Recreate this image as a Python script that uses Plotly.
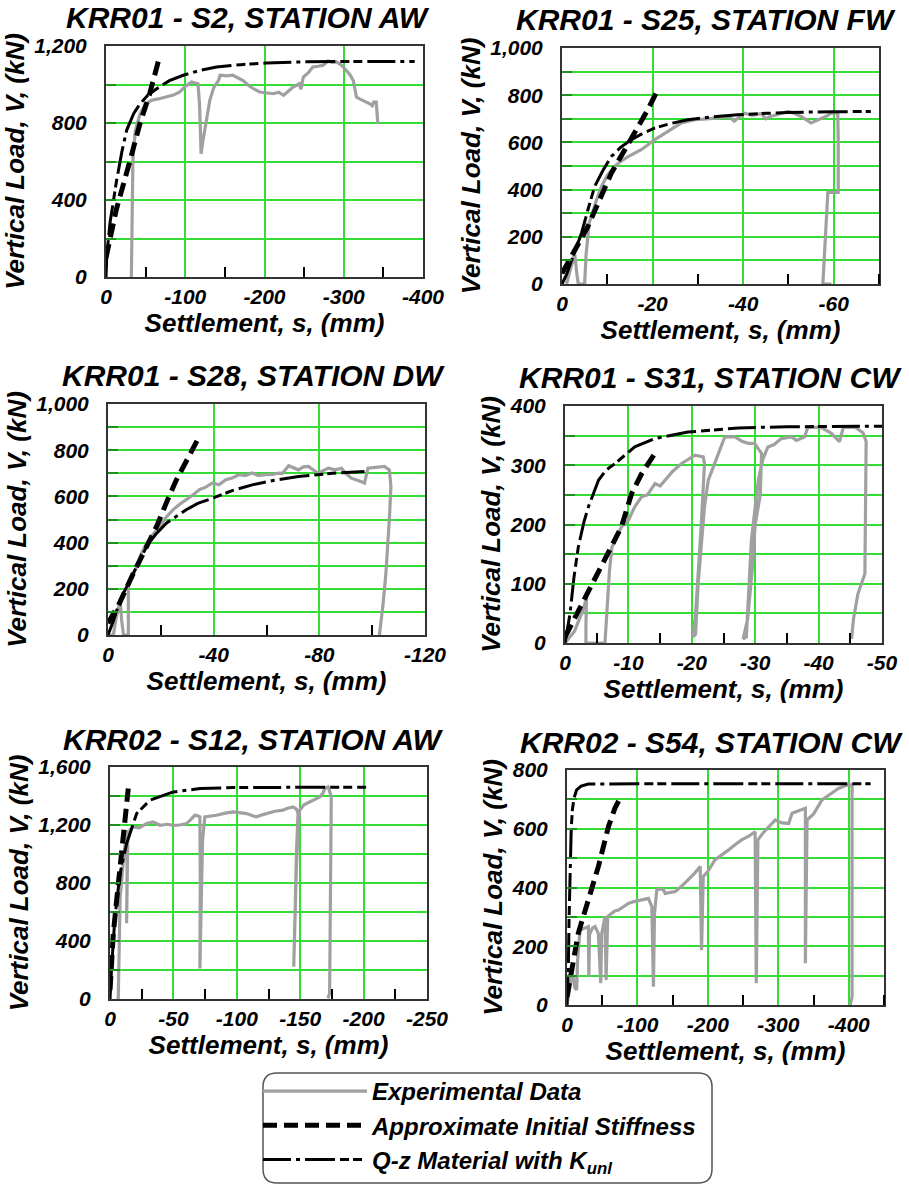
import plotly.graph_objects as go

# ---------------- DATA (settlement s in mm, load V in kN) ----------------
titles = ["KRR01 - S2, STATION AW", "KRR01 - S25, STATION FW", "KRR01 - S28, STATION DW",
          "KRR01 - S31, STATION CW", "KRR02 - S12, STATION AW", "KRR02 - S54, STATION CW"]

# Panel 1: KRR01 - S2, Station AW
p1_exp_s = [-32, -33, -34, -37, -43, -50, -57.5, -66, -76, -85, -93, -100, -108, -113, -116, -118, -120, -122,
            -125, -131, -136, -142, -144, -152, -160, -166, -173, -180, -186, -194, -203, -211, -218, -224, -230,
            -236, -240, -244, -246, -249, -255, -261, -268, -274, -280, -286, -291, -297, -303, -308, -312, -314,
            -316, -320, -324, -333, -336, -338, -341, -342, -343]
p1_exp_v = [0, 300, 620, 760, 848, 900, 918, 925, 935, 945, 961, 990, 1013, 1005, 1004, 900, 640, 700,
            779, 918, 985, 1021, 1048, 1045, 1048, 1035, 1021, 995, 978, 961, 958, 952, 960, 944, 965,
            987, 995, 1004, 975, 1039, 1060, 1091, 1095, 1100, 1122, 1115, 1117, 1100, 1074, 1050, 1021, 980,
            935, 925, 918, 900, 890, 910, 909, 850, 797]
p1_k0_s = [0, -13, -30, -43, -55, -67]
p1_k0_v = [100, 350, 600, 800, 950, 1135]
p1_qz_s = [0, -1, -5, -13.4, -20, -26, -35, -43, -53, -64, -80, -97.5, -120, -139.5, -170, -202.5, -250, -286.6,
           -340, -389.5]
p1_qz_v = [0, 110, 280, 502, 650, 762, 850, 900, 945, 978, 1020, 1048, 1075, 1091, 1103, 1112, 1118, 1120,
           1120, 1120]

# Panel 2: KRR01 - S25, Station FW
p2_exp_s = [-1, -2.2, -2.8, -3.3, -3.6, -5, -5.3, -5.7, -6, -6.5, -7.5, -8.7, -10, -11.6, -13, -14.6, -16, -17.5,
            -19, -20.4, -22, -23.4, -25, -26.3, -28, -29.3, -32, -35, -37, -38, -40.3, -42, -44, -45, -46, -48,
            -49.9, -51, -52.8, -55, -56, -57.2, -58.5, -59.4, -60.9, -61, -61, -58.7, -58.2, -57.6, -59.5]
p2_exp_v = [0, 80, 130, 40, 0, 0, 120, 200, 260, 286, 350, 413, 460, 498, 520, 540, 555, 569,
            590, 611, 630, 646, 665, 682, 690, 696, 700, 703, 708, 690, 724, 715, 722, 700, 710, 720,
            731, 725, 710, 682, 690, 703, 712, 724, 724, 600, 388, 388, 200, 0, 0]
p2_k0_s = [0, -5.7, -10.9, -16, -19, -20.8]
p2_k0_v = [45, 243, 470, 639, 740, 810]
p2_qz_s = [0, -1, -2.5, -4.3, -5.8, -7.2, -9, -10.9, -13, -15.3, -18, -20.4, -24, -27.8, -33, -38.8, -45, -49.9,
           -60, -68.2]
p2_qz_v = [0, 40, 120, 215, 320, 413, 480, 540, 580, 611, 640, 660, 680, 696, 708, 717, 723, 727, 730, 731]

# Panel 3: KRR01 - S28, Station DW
p3_exp_s = [0, -2, -3.2, -4.6, -5.2, -5.9, -7.7, -7.7, -9, -10.9, -12.5, -14.6, -17, -19.6, -22, -24.6, -27,
            -29.6, -32, -34.6, -37, -39.6, -42, -44.6, -47, -49.6, -52, -54.6, -57, -59.6, -62, -64.6, -66,
            -68.4, -70, -72.1, -74, -75.9, -78, -79.6, -82, -83.4, -86, -88.4, -90, -92.1, -95, -97.1, -98.4,
            -101, -104.6, -106.5, -107.1, -106.5, -105.2, -104, -102.75]
p3_exp_v = [0, 0, 80, 152, 60, 0, 0, 210, 250, 296, 350, 397, 435, 470, 510, 542, 565,
            585, 605, 629, 640, 658, 650, 672, 680, 694, 690, 701, 690, 694, 695, 701, 700,
            733, 725, 715, 728, 730, 712, 701, 715, 722, 715, 722, 700, 679, 668, 658, 722,
            725, 730, 715, 643, 500, 267, 120, 0]
p3_k0_s = [0, -4, -9.6, -14, -18.4, -22, -25.9, -30, -34.25]
p3_k0_v = [51, 130, 267, 370, 470, 570, 672, 760, 853]
p3_qz_s = [0, -2, -4.6, -9.6, -14.6, -18, -22.1, -29.6, -34, -39.6, -47, -54.6, -63, -72.1, -85, -97.1]
p3_qz_v = [0, 60, 152, 267, 383, 435, 484, 542, 570, 592, 625, 650, 670, 686, 700, 708]

# Panel 4: KRR01 - S31, Station CW
p4_exp_s = [0, -1.5, -3, -3.4, -3.3, -3.3, -6.3, -6.6, -7, -7.4, -7.8, -8.9, -10, -11, -12.1, -13, -14.2, -15,
            -16.3, -17, -18.4, -19.5, -20.5, -21.8, -22, -21.5, -21, -20.6, -20.2, -20.6, -21, -21.5, -22, -22.6,
            -23.5, -24.2, -25.2, -26.8, -28, -28.9, -29.9, -31, -30.8, -30, -29.5, -28.8, -28.1, -28.6, -29.4,
            -30, -30.5, -31.2, -32, -33, -34.1, -35.7, -36.5, -37.8, -38.3, -40.4, -42, -43.3, -43.9, -45.8, -47,
            -47.5, -47.4, -47.3, -46.2, -45.5, -45.2]
p4_exp_v = [0, 20, 60, 78, 30, 0, 0, 60, 120, 162, 170, 196, 207, 230, 247, 250, 269, 265,
            281, 290, 303, 310, 317, 314, 303, 200, 120, 50, 10, 15, 100, 173, 230, 275,
            300, 320, 348, 348, 340, 337, 337, 320, 250, 200, 120, 40, 7, 10, 173,
            230, 275, 310, 331, 335, 345, 348, 342, 348, 364, 364, 354, 340, 364, 364, 355,
            340, 250, 117, 83, 40, 7]
p4_k0_s = [0, -3.2, -6.3, -8.9, -10.5, -12.1, -14]
p4_k0_v = [10, 78, 145, 196, 252, 286, 317]
p4_qz_s = [0, -0.8, -1.4, -2.1, -3, -3.7, -5.3, -6.5, -7.9, -11, -14.2, -19.4, -27.3, -35, -50]
p4_qz_v = [0, 50, 110, 162, 205, 230, 275, 292, 303, 331, 345, 356, 363, 365, 366]

# Panel 5: KRR02 - S12, Station AW
p5_exp_s = [-6.5, -7, -8, -10, -12, -13.1, -13.5, -13.3, -13.1, -13.4, -14, -16, -18.4, -23, -28.9, -34.1, -39.4,
            -45, -49.9, -55, -60.4, -64, -66.9, -68.5, -70.9, -71.2, -71, -70.9, -71.8, -73, -74.8, -80, -84, -90,
            -97.1, -102, -107.6, -112, -115.5, -120, -123.4, -130, -136.5, -140, -144.4, -147, -148.3, -147, -146,
            -144.9, -145.5, -147, -148.5, -149.6, -153, -157.5, -160, -165.4, -168, -169.3, -171.9, -173, -174.5,
            -174.2, -173.8, -173.2, -171.9]
p5_exp_v = [0, 300, 700, 900, 1050, 1164, 900, 600, 523, 800, 1100, 1170, 1187, 1180, 1210, 1221, 1198,
            1205, 1198, 1200, 1210, 1240, 1267, 1265, 1256, 800, 400, 211, 600, 1095, 1256, 1260, 1267, 1280,
            1290, 1285, 1279, 1265, 1256, 1270, 1279, 1295, 1302, 1315, 1325, 1310, 1279, 1000, 600,
            223, 500, 911, 1200, 1302, 1340, 1359, 1370, 1393, 1420, 1451, 1462, 1440, 1393,
            900, 400, 39, 5]
p5_k0_s = [0, -2.6, -6.6, -10.5, -12.5, -14.4]
p5_k0_v = [62, 452, 797, 1095, 1280, 1451]
p5_qz_s = [0, -1.3, -3.9, -7.9, -13.1, -21, -31.5, -49.9, -70.9, -97, -150, -202]
p5_qz_v = [0, 223, 567, 865, 1072, 1279, 1371, 1428, 1451, 1458, 1460, 1460]

# Panel 6: KRR02 - S54, Station CW
p6_exp_s = [0, -3, -6, -9, -11, -13.7, -15, -18.5, -22, -26, -30.3, -31, -32, -36, -39.8, -44.5, -47.9, -49.3, -52,
            -54, -55.5, -57.8, -63.5, -68, -73, -80, -87.2, -95, -106, -115.6, -120.4, -122.7, -124.2, -127.5,
            -132, -137, -139.3, -146, -153.6, -163, -172.5, -181, -189.1, -191, -193.4, -200, -210, -220, -229.4,
            -238, -248, -258, -267, -268.7, -271, -278, -286, -295.7, -305, -314.7, -319.4, -328, -338.4, -338.4,
            -340.8, -350, -362, -375, -385.8, -393, -400, -404.7, -404.7, -402]
p6_exp_v = [0, 40, 90, 96, 60, 51, 150, 255, 258, 262, 267, 96, 240, 262, 267, 244, 74, 244, 280,
            301, 85, 301, 312, 320, 323, 335, 346, 352, 358, 363, 335, 62, 312, 392,
            395, 392, 380, 384, 386, 405, 426, 448, 471, 187, 437, 455, 494, 510, 528,
            545, 562, 575, 590, 74, 562, 585, 607, 630, 620, 618, 653, 660, 670, 142,
            630, 650, 698, 720, 738, 745, 750, 749, 28, 0]
p6_k0_s = [0, -16, -30.3, -44.5, -58.8, -68, -77.7]
p6_k0_v = [28, 244, 358, 471, 607, 670, 715]
p6_qz_s = [0, -1.9, -3, -4.3, -6, -7.6, -10, -13.7, -20, -30.3, -100, -431]
p6_qz_v = [0, 130, 300, 471, 600, 664, 705, 732, 745, 752, 753, 753]

# Axis ranges and tick values
x_ranges = [[0, -400], [0, -70], [0, -120], [0, -50], [0, -250], [0, -450]]
x_tickvals = [[0, -100, -200, -300, -400], [0, -20, -40, -60], [0, -40, -80, -120],
              [0, -10, -20, -30, -40, -50], [0, -50, -100, -150, -200, -250], [0, -100, -200, -300, -400]]
x_minorvals = [[-50, -150, -250, -350], [-10, -30, -50, -70], [-20, -60, -100],
               [-5, -15, -25, -35, -45], [-25, -75, -125, -175, -225], [-50, -150, -250, -350, -450]]
y_ranges = [[0, 1200], [0, 1000], [0, 1000], [0, 400], [0, 1600], [0, 800]]
y_tickvals = [[0, 400, 800, 1200], [0, 200, 400, 600, 800, 1000], [0, 200, 400, 600, 800, 1000],
              [0, 100, 200, 300, 400], [0, 400, 800, 1200, 1600], [0, 200, 400, 600, 800]]
y_minorvals = [[200, 600, 1000], [100, 300, 500, 700, 900], [100, 300, 500, 700, 900],
               [50, 150, 250, 350], [200, 600, 1000, 1400], [100, 300, 500, 700]]

series_names = ["Experimental Data", "Approximate Initial Stiffness", "Q-z Material with K<sub>unl</sub>"]

panel_data = [
    (p1_exp_s, p1_exp_v, p1_k0_s, p1_k0_v, p1_qz_s, p1_qz_v),
    (p2_exp_s, p2_exp_v, p2_k0_s, p2_k0_v, p2_qz_s, p2_qz_v),
    (p3_exp_s, p3_exp_v, p3_k0_s, p3_k0_v, p3_qz_s, p3_qz_v),
    (p4_exp_s, p4_exp_v, p4_k0_s, p4_k0_v, p4_qz_s, p4_qz_v),
    (p5_exp_s, p5_exp_v, p5_k0_s, p5_k0_v, p5_qz_s, p5_qz_v),
    (p6_exp_s, p6_exp_v, p6_k0_s, p6_k0_v, p6_qz_s, p6_qz_v),
]

# ---------------- LAYOUT / STYLE ----------------
W, H = 909, 1185
# plot-area rectangles in pixels: (left, right, top, bottom)
rects = [(106, 423, 46, 277), (562, 879, 48, 284), (108, 425, 404, 635),
         (565, 882, 406, 643), (110, 427, 767, 999), (567, 884, 770, 1005)]
title_pos = [(248, 18), (706, 19), (253, 375), (710, 378), (254, 739), (711, 742)]

FONT = "Liberation Sans, Arial, sans-serif"
def bfont(size, color="black"):
    return dict(family=FONT, size=size, color=color, weight="bold", style="italic")

GRID = "#33dd33"
TICKG = "#1f8f1f"
styles = [
    dict(color="#a0a0a0", width=3.2),
    dict(color="black", width=5, dash="14px,7px"),
    dict(color="black", width=3, dash="28px,5px,4px,5px,30px,5px,9px,4px,9px,5px"),
]

def fmt(v):
    return f"{v:,}"

fig = go.Figure()
layout = dict(width=W, height=H, margin=dict(l=0, r=0, t=0, b=0, pad=0), autosize=False,
              paper_bgcolor="white", plot_bgcolor="white", showlegend=True)
annotations = []

for i, (rect, data) in enumerate(zip(rects, panel_data)):
    n = i + 1
    xs = "" if n == 1 else str(n)
    l, r, t, b = rect
    xdom = [l / W, r / W]
    ydom = [1 - b / H, 1 - t / H]
    layout["xaxis" + xs] = dict(
        domain=xdom, range=x_ranges[i], anchor="y" + xs, automargin=False,
        tickmode="array", tickvals=x_tickvals[i], ticktext=[str(v) for v in x_tickvals[i]],
        showgrid=True, gridcolor=GRID, gridwidth=1.5, ticks="", zeroline=False,
        minor=dict(tickmode="array", tickvals=x_minorvals[i], ticks="inside", ticklen=10,
                   tickcolor="black", tickwidth=1.5, showgrid=False),
        showline=True, linecolor="#333333", linewidth=2, mirror=True,
        tickfont=bfont(21), ticklabelstandoff=0,
        title=dict(text="Settlement, s, (mm)", font=bfont(26), standoff=2),
    )
    layout["yaxis" + xs] = dict(
        domain=ydom, range=y_ranges[i], anchor="x" + xs, automargin=False,
        tickmode="array", tickvals=y_tickvals[i], ticktext=[fmt(v) for v in y_tickvals[i]],
        showgrid=True, gridcolor=GRID, gridwidth=1.5, ticks="inside", ticklen=10,
        tickcolor=TICKG, tickwidth=2, zeroline=False,
        minor=dict(tickmode="array", tickvals=y_minorvals[i], ticks="inside", ticklen=10,
                   tickcolor=TICKG, tickwidth=2, showgrid=True, gridcolor=GRID, gridwidth=1.5),
        showline=True, linecolor="#333333", linewidth=2, mirror=True,
        tickfont=bfont(21), ticklabelstandoff=13,
        title=dict(text="Vertical Load, V, (kN)", font=bfont(26), standoff=2),
    )
    for k in range(3):
        fig.add_trace(go.Scatter(
            x=data[2 * k], y=data[2 * k + 1], mode="lines", line=styles[k],
            name=series_names[k], legendgroup=series_names[k], showlegend=(n == 1),
            xaxis="x" + xs, yaxis="y" + xs, hoverinfo="skip"))
    tx, ty = title_pos[i]
    annotations.append(dict(text=titles[i], x=tx / W, y=1 - ty / H, xref="paper", yref="paper",
                            xanchor="center", yanchor="middle", showarrow=False, font=bfont(30)))

# legend box (rounded rectangle)
lx0, lx1, ly0, ly1, rad = 263, 712, 1073, 1183, 14
def px(x): return x / W
def py(y): return 1 - y / H
path = (f"M {px(lx0 + rad)},{py(ly0)} L {px(lx1 - rad)},{py(ly0)} Q {px(lx1)},{py(ly0)} {px(lx1)},{py(ly0 + rad)} "
        f"L {px(lx1)},{py(ly1 - rad)} Q {px(lx1)},{py(ly1)} {px(lx1 - rad)},{py(ly1)} "
        f"L {px(lx0 + rad)},{py(ly1)} Q {px(lx0)},{py(ly1)} {px(lx0)},{py(ly1 - rad)} "
        f"L {px(lx0)},{py(ly0 + rad)} Q {px(lx0)},{py(ly0)} {px(lx0 + rad)},{py(ly0)} Z")
layout["shapes"] = [dict(type="path", path=path, xref="paper", yref="paper",
                         line=dict(color="#555555", width=1.5), fillcolor="rgba(0,0,0,0)", layer="below")]
layout["legend"] = dict(x=px(lx0 - 5), y=py(ly0 - 4), xanchor="left", yanchor="top",
                        font=bfont(24), itemwidth=104, tracegroupgap=0,
                        bgcolor="rgba(0,0,0,0)", borderwidth=0)
layout["annotations"] = annotations
fig.update_layout(**layout)
fig.write_html("out.html")
